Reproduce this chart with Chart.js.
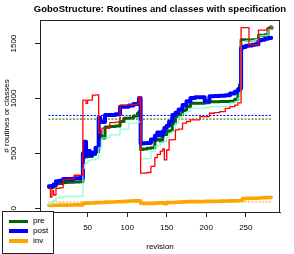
<!DOCTYPE html>
<html>
<head>
<meta charset="utf-8">
<script src="https://cdn.jsdelivr.net/npm/chart.js@4.4.0/dist/chart.umd.min.js"></script>
<style>
  body { margin: 0; overflow: hidden; background: #fff; font-family: "Liberation Sans", Arial, sans-serif; }
  #wrap { position: relative; width: 294px; height: 254px; }
  #title { position: absolute; left: 10px; width: 300px; top: 3px; text-align: center; font-weight: bold; font-size: 9.5px; color: #000; white-space: nowrap; }
  #legend { position: absolute; left: 2px; top: 211px; width: 50px; height: 41px; border: 1px solid #222; background: #fff; font-size: 8px; color: #000; }
  .swatch { position: absolute; left: 6px; width: 19px; }
  .label { position: absolute; left: 30px; line-height: 10px; color: #000; }
</style>
</head>
<body>
<div id="wrap">
  <canvas id="myChart" width="294" height="254"></canvas>
  <div id="title">GoboStructure: Routines and classes with specification</div>
  <div id="legend"></div>
</div>
<script>
// revisions where at least one of the series changes (values hold until the next one)
const revisions = [1, 3, 5, 7, 10, 14, 19, 25, 33, 40, 44, 46, 48, 50, 53, 56, 60, 64, 66, 68,
  72, 78, 85, 91, 96, 102, 108, 113, 115, 117, 120, 125, 130, 135, 138, 142, 145, 147, 150, 153,
  157, 161, 165, 170, 175, 180, 186, 192, 198, 204, 210, 217, 224, 230, 236, 240, 242, 244, 246, 250,
  254, 258, 262, 266, 270, 274, 278, 282];

const pre = [185, 183, 190, 200, 222, 225, 235, 236, 238, 240, 460, 500, 468, 480, 470, 490, 515, 700, 665, 640,
  740, 745, 748, 790, 820, 822, 840, 865, 880, 535, 540, 545, 550, 620, 625, 610, 668, 672, 698, 705,
  775, 835, 850, 890, 925, 956, 956, 956, 960, 971, 971, 972, 973, 975, 992, 1090, 1125, 1535, 1535, 1533,
  1533, 1535, 1535, 1577, 1577, 1580, 1640, 1645];

const post = [200, 195, 205, 215, 245, 250, 265, 265, 272, 274, 500, 605, 480, 520, 485, 505, 550, 825, 790, 785,
  850, 850, 855, 925, 925, 935, 950, 955, 1005, 590, 592, 595, 625, 660, 690, 662, 700, 730, 750, 790,
  850, 870, 900, 940, 975, 1005, 1010, 1010, 975, 1020, 1022, 1024, 1030, 1045, 1062, 1080, 1090, 1460, 1470, 1480,
  1482, 1490, 1495, 1530, 1535, 1545, 1550, 1553];

const inv = [25, 25, 26, 26, 27, 28, 28, 29, 30, 30, 45, 45, 46, 46, 47, 48, 50, 50, 52, 52,
  55, 56, 58, 60, 62, 65, 66, 67, 68, 45, 42, 42, 44, 46, 48, 48, 48, 40, 50, 52,
  52, 54, 55, 57, 60, 60, 60, 60, 62, 62, 63, 64, 65, 66, 68, 68, 70, 70, 88, 89,
  90, 90, 91, 92, 95, 96, 97, 98];

// the two thin unlabelled series (red and aquamarine)
const extraRed = [180, 100, 160, 120, 180, 185, 260, 265, 300, 300, 985, 985, 955, 985, 985, 1030, 1032, 685, 685, 730,
  730, 780, 785, 940, 940, 942, 945, 950, 1015, 320, 320, 325, 380, 460, 490, 520, 540, 440, 530, 623,
  625, 714, 720, 775, 790, 805, 805, 835, 835, 865, 870, 880, 910, 925, 940, 960, 960, 1645, 1645, 1645,
  1488, 1488, 1490, 1623, 1623, 1625, 1640, 1640];

const extraAqua = [30, 40, 62, 70, 93, 95, 107, 107, 107, 108, 365, 400, 410, 430, 440, 441, 450, 550, 555, 640,
  640, 668, 668, 720, 720, 775, 775, 780, 790, 450, 450, 452, 516, 562, 570, 600, 607, 610, 640, 684,
  700, 775, 835, 860, 880, 911, 911, 911, 915, 926, 926, 926, 928, 960, 971, 1002, 1050, 1510, 1520, 1525,
  1525, 1530, 1535, 1570, 1575, 1575, 1630, 1640];

// dotted reference levels
const preRef = 812;
const postRef = 845;
const invRef = 57;

const xTicks = [0, 50, 100, 150, 200, 250];
const yTicks = [0, 500, 1000, 1500];

Chart.defaults.font.family = '"Liberation Sans", Arial, sans-serif';

function points(values) {
    return revisions.map((r, i) => ({ x: r, y: values[i] }));
}

function refLine(level) {
    return [{ x: revisions[0], y: level }, { x: revisions[revisions.length - 1], y: level }];
}

const lastIdx = revisions.length - 1;

const boxPlugin = {
    id: 'box',
    afterDraw(chart) {
        const { ctx, chartArea: a } = chart;
        ctx.save();
        ctx.strokeStyle = '#222';
        ctx.lineWidth = 1;
        ctx.strokeRect(a.left + 0.5, a.top + 0.5, a.right - a.left - 1, a.bottom - a.top);
        ctx.restore();
    }
};

const canvas = document.getElementById('myChart');
const myChart = new Chart(canvas.getContext('2d'), {
    type: 'line',
    data: {
        datasets: [
            { label: 'extra red', data: points(extraRed), borderColor: '#ff0000', borderWidth: 1.3, stepped: true, order: 0 },
            { label: 'extra aqua', data: points(extraAqua), borderColor: 'rgba(127,255,212,0.9)', borderWidth: 1.3, stepped: true, order: 1 },
            { label: 'post', data: points(post), borderColor: '#0000ff', borderWidth: 4, stepped: true, order: 2 },
            {
                label: 'pre', data: points(pre), borderColor: '#006400', borderWidth: 3, stepped: true, order: 3,
                pointRadius: ctx => ctx.dataIndex === lastIdx ? 2 : 0,
                pointBorderWidth: 1, pointBorderColor: '#006400', pointBackgroundColor: 'rgba(0,0,0,0)'
            },
            { label: 'inv', data: points(inv), borderColor: '#ffa500', borderWidth: 3.6, stepped: true, order: 4 },
            { label: 'post ref', data: refLine(postRef), borderColor: '#0000ff', borderWidth: 1, borderDash: [1.2, 2.3], order: 5 },
            { label: 'pre ref', data: refLine(preRef), borderColor: '#006400', borderWidth: 1, borderDash: [1.2, 2.3], order: 6 },
            { label: 'inv ref', data: refLine(invRef), borderColor: '#ffa500', borderWidth: 1, borderDash: [1.2, 2.3], order: 7 }
        ]
    },
    options: {
        responsive: false,
        animation: false,
        layout: { padding: { top: 20, right: 14, left: 0, bottom: 0 } },
        elements: {
            point: { radius: 0 },
            line: { tension: 0, borderCapStyle: 'round', borderJoinStyle: 'round' }
        },
        plugins: {
            legend: { display: false },
            tooltip: { enabled: false }
        },
        scales: {
            x: {
                type: 'linear',
                min: -10.2,
                max: 293.2,
                afterBuildTicks: s => { s.ticks = xTicks.map(v => ({ value: v })); },
                afterFit: s => { s.height = 42; },
                grid: { drawOnChartArea: false, tickLength: 5, color: '#222' },
                border: { color: '#222' },
                ticks: { padding: 6, color: '#000', font: { size: 8 }, maxRotation: 0, autoSkip: false, callback: v => String(v) },
                title: { display: true, text: 'revision', color: '#000', font: { size: 8 }, padding: { top: 0, bottom: 2 } }
            },
            y: {
                type: 'linear',
                min: -35,
                max: 1715,
                afterBuildTicks: s => { s.ticks = yTicks.map(v => ({ value: v })); },
                afterFit: s => { s.width = 40; },
                grid: { drawOnChartArea: false, tickLength: 5, color: '#222' },
                border: { color: '#222' },
                ticks: { padding: 12, color: '#000', font: { size: 8 }, minRotation: 90, maxRotation: 90, crossAlign: 'center', autoSkip: false, callback: v => String(v) },
                title: { display: true, text: '# routines or classes', color: '#000', font: { size: 8 }, padding: { top: 2, bottom: 0 } }
            }
        }
    },
    plugins: [boxPlugin]
});

// legend in the bottom-left corner, as in the original
const legendRows = [
    { label: 'pre', color: '#006400', width: 3, top: 9.7 },
    { label: 'post', color: '#0000ff', width: 4, top: 19.2 },
    { label: 'inv', color: '#ffa500', width: 4, top: 29 }
];
const legend = document.getElementById('legend');
legendRows.forEach(row => {
    const sw = document.createElement('div');
    sw.className = 'swatch';
    sw.style.top = (row.top - row.width / 2) + 'px';
    sw.style.height = row.width + 'px';
    sw.style.background = row.color;
    legend.appendChild(sw);
    const lb = document.createElement('div');
    lb.className = 'label';
    lb.style.top = (row.top - 5.5) + 'px';
    lb.textContent = row.label;
    legend.appendChild(lb);
});
</script>
</body>
</html>
